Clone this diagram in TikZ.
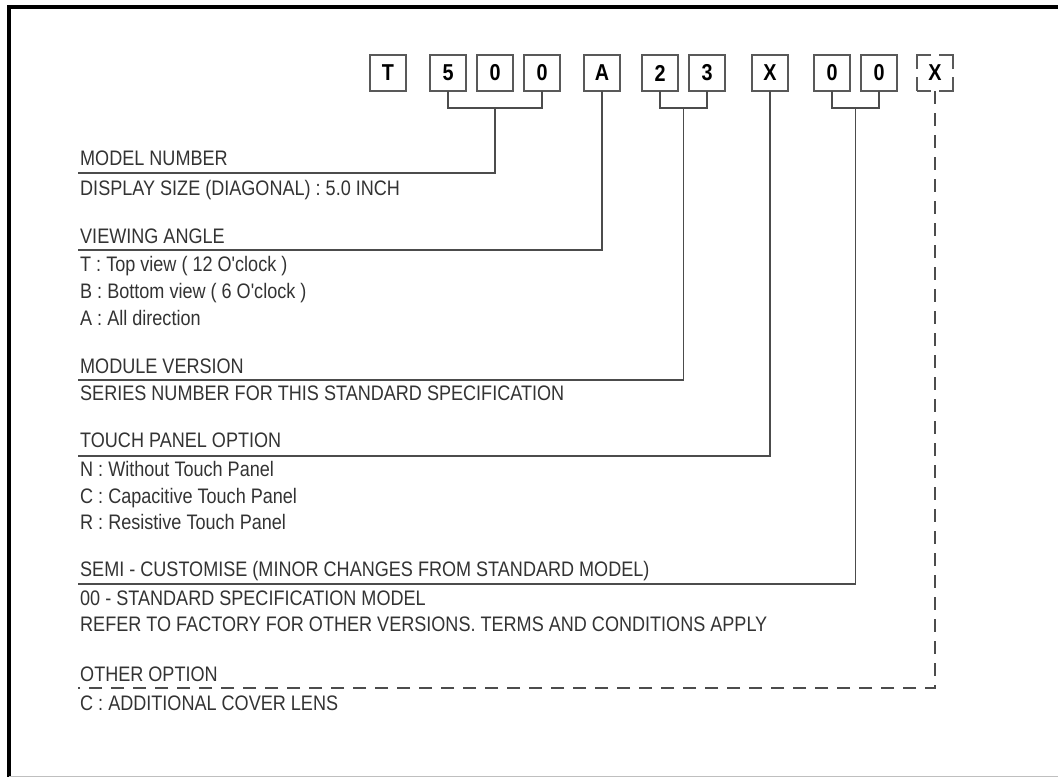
\documentclass[tikz,border=0pt]{standalone}
\usepackage{fontspec}
\newfontfamily\lblfont[FakeStretch=0.86]{Liberation Sans}
\usetikzlibrary{positioning, calc}

\begin{document}
\begin{tikzpicture}[x=1pt, y=-1pt,
    node distance=11pt,
    chr/.style={draw=black!65, line width=1.6pt, outer sep=0pt, minimum width=36pt, minimum height=36pt, inner sep=0pt, font=\lblfont\bfseries\fontsize{23}{23}\selectfont},
    chrdash/.style={chr, dash pattern=on 28pt off 8pt, dash phase=14pt},
    lbl/.style={anchor=base west, inner sep=0pt, text=black!80, font=\lblfont\fontsize{21}{21}\selectfont},
    conn/.style={draw=black!70, line width=1.6pt},
    connd/.style={conn, dash pattern=on 13pt off 9pt}
  ]
  \useasboundingbox (0,0) rectangle (1058,777);

  % Rahmen
  \draw[line width=3.5pt] (1058,7) -- (9,7) -- (9,777);
  \draw[black!25, line width=1pt] (9,776) -- (1058,776);

  % Kaestchen der Typenbezeichnung
  \node[chr] (cT) at (388,73) {T};
  \node[chr, right=24pt of cT] (c5) {5};
  \node[chr, right=of c5] (c0a) {0};
  \node[chr, right=of c0a] (c0b) {0};
  \node[chr, right=24pt of c0b] (cA) {A};
  \node[chr, right=22pt of cA] (c2) {2};
  \node[chr, right=of c2] (c3) {3};
  \node[chr, right=27pt of c3] (cX) {X};
  \node[chr, right=26pt of cX] (c0c) {0};
  \node[chr, right=of c0c] (c0d) {0};
  \node[chrdash, right=20pt of c0d] (cXd) {X};

  % Beschriftungen
  \node[lbl] (tModel) at (80,165) {MODEL NUMBER};
  \node[lbl] (tSize) at (80,195) {DISPLAY SIZE (DIAGONAL) : 5.0 INCH};
  \node[lbl] (tView) at (80,243) {VIEWING ANGLE};
  \node[lbl] (tTop) at (80,271) {T : Top view ( 12 O'clock )};
  \node[lbl] (tBottom) at (80,298) {B : Bottom view ( 6 O'clock )};
  \node[lbl] (tAll) at (80,325) {A : All direction};
  \node[lbl] (tModule) at (80,373) {MODULE VERSION};
  \node[lbl] (tSeries) at (80,400) {SERIES NUMBER FOR THIS STANDARD SPECIFICATION};
  \node[lbl] (tTouch) at (80,447) {TOUCH PANEL OPTION};
  \node[lbl] (tNone) at (80,476) {N : Without Touch Panel};
  \node[lbl] (tCap) at (80,503) {C : Capacitive Touch Panel};
  \node[lbl] (tRes) at (80,529) {R : Resistive Touch Panel};
  \node[lbl] (tSemi) at (80,576) {SEMI - CUSTOMISE (MINOR CHANGES FROM STANDARD MODEL)};
  \node[lbl] (tStd) at (80,605) {00 - STANDARD SPECIFICATION MODEL};
  \node[lbl] (tRefer) at (80,631) {REFER TO FACTORY FOR OTHER VERSIONS. TERMS AND CONDITIONS APPLY};
  \node[lbl] (tOther) at (80,681) {OTHER OPTION};
  \node[lbl] (tLens) at (80,710) {C : ADDITIONAL COVER LENS};

  % Enden der Fuehrungslinien
  \coordinate (eModel) at (78,173);
  \coordinate (eView) at (78,250);
  \coordinate (eModule) at (78,380);
  \coordinate (eTouch) at (78,456);
  \coordinate (eSemi) at (78,584);
  \coordinate (eOther) at (78,688);

  % Klammern
  \draw[conn] (c5.south) -- ++(0,17) -| (c0b.south);
  \draw[conn] (c2.south) -- ++(0,17) -| (c3.south);
  \draw[conn] (c0c.south) -- ++(0,17) -| (c0d.south);

  % Fuehrungslinien
  \draw[conn] ($(c0a.south)+(0,17)$) |- (eModel);
  \draw[conn] (cA.south) |- (eView);
  \draw[conn] ($(c2.south)!0.5!(c3.south)+(0,17)$) |- (eModule);
  \draw[conn] (cX.south) |- (eTouch);
  \draw[conn] ($(c0c.south)!0.5!(c0d.south)+(0,17)$) |- (eSemi);
  \draw[connd] (cXd.south) |- (eOther);
\end{tikzpicture}
\end{document}
